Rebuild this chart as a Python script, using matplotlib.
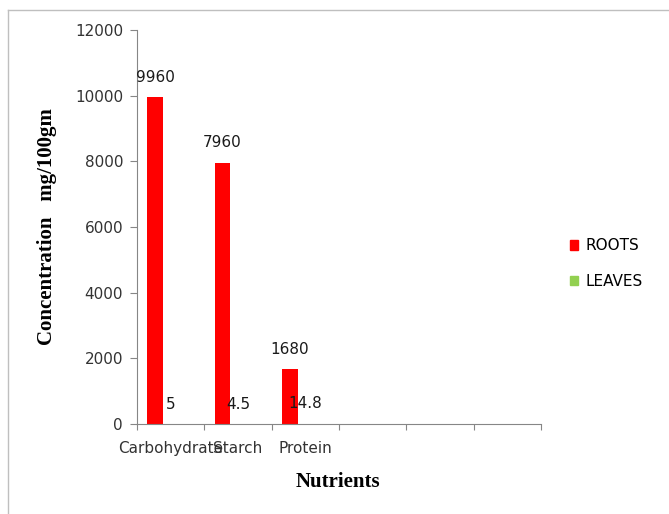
import matplotlib
matplotlib.use('Agg')
import matplotlib.pyplot as plt
from matplotlib.lines import Line2D
from matplotlib.patches import Patch

# nutrient concentrations (mg/100gm)
nutrients = ['Carbohydrate', 'Starch', 'Protein', '', '', '']
roots = [9960, 7960, 1680]
leaves = [5, 4.5, 14.8]

red = '#FF0000'
green = '#92D050'
axis_gray = '#868686'
font = 'DejaVu Sans'
serif = 'Liberation Serif'

fig = plt.figure(figsize=(6.69, 5.14), dpi=100)
ax = fig.add_axes([0.2048, 0.1751, 0.6039, 0.7665])

bar_w = 0.23
xs = range(len(roots))
root_x = [x - bar_w for x in xs]
leaf_x = [x for x in xs]
ax.bar(root_x, roots, width=bar_w, color=red, label='ROOTS')
ax.bar(leaf_x, leaves, width=bar_w, color=green, label='LEAVES')

# value labels sit a little above each bar
for x, v in zip(root_x, roots):
    ax.text(x, v + 600, f'{v:g}', ha='center', va='center',
            fontsize=11, family=font, color='#1a1a1a')
for x, v in zip(leaf_x, leaves):
    ax.text(x, v + 600, f'{v:g}', ha='center', va='center',
            fontsize=11, family=font, color='#1a1a1a')

ax.set_xlim(-0.5, len(nutrients) - 0.5)
ax.set_ylim(0, 12000)
ax.set_yticks(range(0, 12001, 2000))
ax.set_yticklabels([str(t) for t in range(0, 12001, 2000)], family=font, fontsize=11, color='#333333')

# category boundaries get tick marks, names sit in between
ax.set_xticks([i - 0.5 for i in range(len(nutrients) + 1)])
ax.set_xticklabels([])
ax.set_xticks(range(len(nutrients)), minor=True)
ax.set_xticklabels(nutrients, minor=True, family=font, fontsize=11, color='#333333')
ax.tick_params(axis='x', which='major', length=4.5, color=axis_gray, direction='out')
ax.tick_params(axis='x', which='minor', length=0, pad=12)
ax.tick_params(axis='y', length=5, color=axis_gray, pad=5)

for side in ['top', 'right']:
    ax.spines[side].set_visible(False)
for side in ['left', 'bottom']:
    ax.spines[side].set_color(axis_gray)

ax.set_xlabel('Nutrients', family=serif, fontweight='bold', fontsize=15)
ax.xaxis.set_label_coords(0.4975, -0.147)
ax.set_ylabel('Concentration   mg/100gm', family=serif, fontweight='bold', fontsize=15)
ax.yaxis.set_label_coords(-0.223, 0.5)
ax.xaxis.label.set_va('center')
ax.yaxis.label.set_va('center')

handles = [Patch(color=red, label='ROOTS'), Patch(color=green, label='LEAVES')]
fig.legend(handles=handles, loc='center left', bbox_to_anchor=(0.852, 0.487), frameon=False,
           prop={'family': font, 'size': 11}, handlelength=0.55, handleheight=0.55,
           handletextpad=0.45, labelspacing=1.35, borderpad=0, borderaxespad=0)

# chart area frame
fig.add_artist(Line2D([8 / 669, 1], [1 - 10 / 514, 1 - 10 / 514], color='#BFBFBF', lw=1))
fig.add_artist(Line2D([8 / 669, 8 / 669], [0, 1 - 10 / 514], color='#BFBFBF', lw=1))

fig.savefig('out.png', dpi=100)
